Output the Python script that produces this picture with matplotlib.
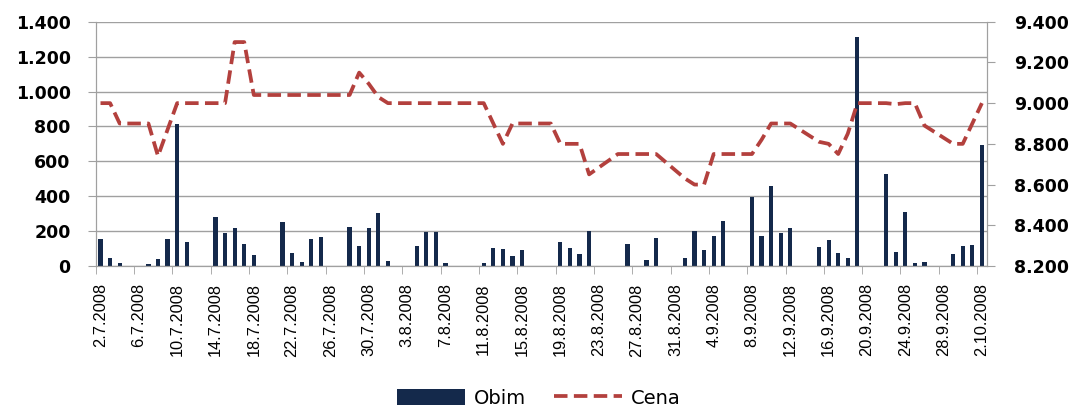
import matplotlib
matplotlib.use("Agg")
import matplotlib.pyplot as plt
import pandas as pd

# one entry per calendar day from 2.7.2008 to 2.10.2008 (weekends: no trade)
start_date = "2008-07-02"
end_date = "2008-10-02"

obim = [155, 48, 17, 0, 0, 11, 42, 153, 815, 139,
        0, 0, 279, 191, 216, 124, 65, 0, 0, 250,
        76, 25, 153, 168, 0, 0, 222, 116, 216, 302,
        30, 0, 0, 116, 193, 193, 17, 0, 0, 0,
        17, 105, 99, 59, 93, 0, 0, 0, 139, 105,
        70, 199, 0, 0, 0, 128, 0, 36, 162, 0,
        0, 48, 202, 93, 174, 260, 0, 0, 394, 174,
        457, 191, 220, 0, 0, 111, 151, 76, 48, 1310,
        0, 0, 527, 82, 308, 17, 23, 0, 0, 70,
        116, 122, 693]

cena = [9000, 9000, 8900, None, None, 8900, 8740, 8870, 9000, 9000,
        None, None, 9000, 9000, 9300, 9300, 9040, None, None, 9040,
        9040, 9040, 9040, 9040, None, None, 9040, 9150, 9095, 9030,
        9000, None, None, 9000, 9000, 9000, 9000, 9000, None, None,
        9000, 8900, 8800, 8900, 8900, None, None, 8900, 8800, 8800,
        8800, 8650, None, None, 8750, 8750, 8750, 8750, 8750, None,
        None, 8630, 8600, 8600, 8750, 8750, None, None, 8750, 8820,
        8900, 8900, 8900, None, None, 8810, 8800, 8750, 8850, 9000,
        None, None, 9000, 8995, 9000, 9000, 8890, None, None, 8800,
        8800, 8900, 9000]

left_ticks = [0, 200, 400, 600, 800, 1000, 1200, 1400]
right_ticks = [8200, 8400, 8600, 8800, 9000, 9200, 9400]

BAR_COLOR = "#14294b"
LINE_COLOR = "#b3403d"
GRID_COLOR = "#a0a0a0"


def fmt(v):
    return "{:,}".format(v).replace(",", ".")


dates = pd.date_range(start_date, end_date, freq="D")
days = list(range(len(dates)))

fig = plt.figure(figsize=(10.78, 4.16), dpi=100)
ax = fig.add_axes([0.0888, 0.3606, 0.9153 - 0.0888, 0.9478 - 0.3606])
ax2 = ax.twinx()

bars = ax.bar(days, obim, width=0.44, color=BAR_COLOR, zorder=2)

px = [d for d, c in zip(days, cena) if c is not None]
py = [c for c in cena if c is not None]
line, = ax2.plot(px, py, color=LINE_COLOR, lw=2.7, linestyle=(0, (3.6, 1.7)),
                 dash_capstyle="butt", solid_joinstyle="round")

ax.set_xlim(-0.5, len(dates) - 0.5)
ax.set_ylim(0, 1400)
ax2.set_ylim(8200, 9400)

ax.set_yticks(left_ticks)
ax.set_yticklabels([fmt(v) for v in left_ticks], fontweight="bold", fontsize=12.5)
ax2.set_yticks(right_ticks)
ax2.set_yticklabels([fmt(v) for v in right_ticks], fontweight="bold", fontsize=12.5)

ax.set_axisbelow(True)
ax.grid(axis="y", color=GRID_COLOR, lw=1)

# labels at day centres, tick marks at day boundaries
label_days = days[::4]
ax.set_xticks(label_days)
ax.set_xticklabels(["{}.{}.{}".format(dates[i].day, dates[i].month, dates[i].year)
                    for i in label_days],
                   rotation=90, fontsize=11.8,
                   family=["Liberation Sans Narrow", "Liberation Sans"])
ax.tick_params(axis="x", which="major", length=0, pad=12.5)
ax.set_xticks([d - 0.5 for d in label_days], minor=True)
ax.tick_params(axis="x", which="minor", length=6, color=GRID_COLOR)

ax.tick_params(axis="y", length=6, color=GRID_COLOR, pad=12)
ax2.tick_params(axis="y", length=6, color=GRID_COLOR, pad=14)

for a in (ax, ax2):
    a.spines["top"].set_visible(False)
    for s in ("left", "right", "bottom"):
        a.spines[s].set_color(GRID_COLOR)

# reference legend sits on the bottom edge; keep it just inside the canvas
fig.legend([bars, line], ["Obim", "Cena"], loc="lower center", ncol=2,
           bbox_to_anchor=(0.5, -0.008), frameon=False, fontsize=14,
           handlelength=3.5, handleheight=0.9, columnspacing=1.45, handletextpad=0.45,
           borderpad=0.1)

fig.savefig("out.png", dpi=100)
